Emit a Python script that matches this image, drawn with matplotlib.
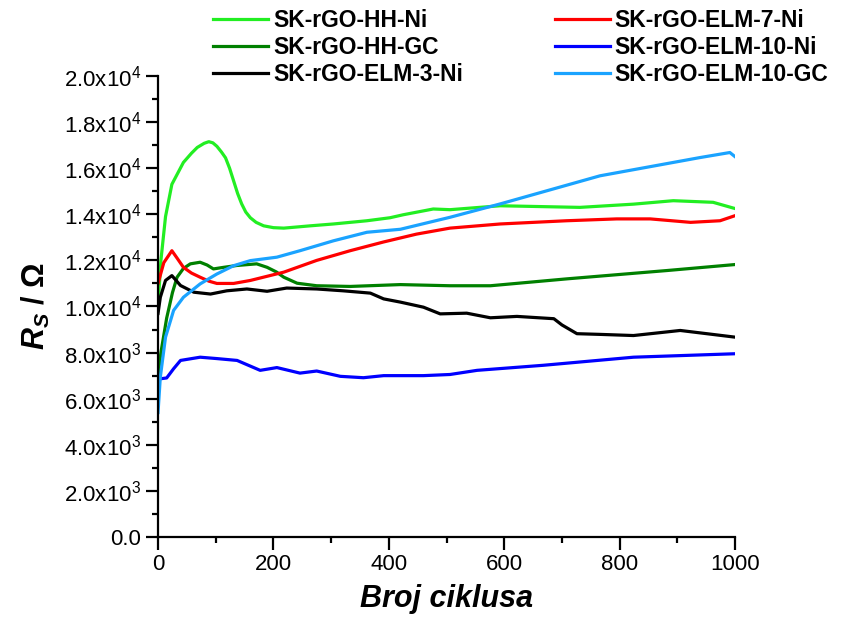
import numpy as np
import matplotlib.pyplot as plt
from matplotlib.ticker import MultipleLocator, FuncFormatter

plt.rcParams['font.family'] = ['Liberation Sans', 'DejaVu Sans']
plt.rcParams['mathtext.fontset'] = 'custom'
plt.rcParams['mathtext.rm'] = 'Liberation Sans'
plt.rcParams['mathtext.it'] = 'Liberation Sans:italic:bold'
plt.rcParams['mathtext.bf'] = 'Liberation Sans:bold'

# values (x: cycle number, y: R_s in kOhm)
hh_ni_x = [0, 5, 13, 24, 44, 58, 68, 80, 88, 95, 102, 110, 117, 124, 131, 138, 145,
           152, 160, 170, 183, 200, 218, 264, 304, 362, 402, 425, 477, 506, 593, 731,
           824, 893, 962, 997, 1000]
hh_ni_y = [10.0, 12.0, 13.9, 15.3, 16.25, 16.65, 16.9, 17.08, 17.15, 17.1, 16.95,
           16.7, 16.45, 16.0, 15.45, 14.9, 14.45, 14.1, 13.85, 13.65, 13.5, 13.42, 13.4,
           13.5, 13.58, 13.72, 13.85, 13.98, 14.23, 14.2, 14.37, 14.3, 14.44, 14.59,
           14.52, 14.27, 14.25]

hh_gc_x = [0, 5, 15, 25, 33, 44, 56, 73, 85, 96, 114, 137, 171, 189, 205, 218, 241,
           275, 333, 420, 506, 576, 709, 882, 1000]
hh_gc_y = [7.0, 8.0, 9.5, 10.6, 11.27, 11.65, 11.85, 11.92, 11.8, 11.63, 11.7, 11.78,
           11.85, 11.7, 11.5, 11.27, 11.01, 10.9, 10.87, 10.95, 10.9, 10.9, 11.2, 11.56,
           11.82]

elm3_x = [0, 4, 13, 24, 39, 62, 91, 119, 154, 189, 223, 275, 321, 368, 391, 420,
          460, 489, 535, 576, 622, 686, 700, 726, 766, 824, 905, 951, 1000]
elm3_y = [9.7, 10.4, 11.13, 11.34, 10.91, 10.62, 10.54, 10.68, 10.76, 10.66, 10.8,
          10.76, 10.68, 10.58, 10.33, 10.19, 9.97, 9.68, 9.71, 9.51, 9.57, 9.47,
          9.2, 8.82, 8.79, 8.74, 8.96, 8.82, 8.67]

elm7_x = [0, 10, 24, 33, 44, 58, 73, 88, 102, 131, 160, 218, 275, 333, 391, 448,
          506, 593, 708, 795, 853, 923, 974, 1000]
elm7_y = [11.0, 11.9, 12.42, 12.1, 11.7, 11.45, 11.27, 11.1, 11.0, 11.0, 11.13,
          11.49, 12.0, 12.42, 12.8, 13.14, 13.4, 13.58, 13.72, 13.8, 13.8, 13.65,
          13.72, 13.94]

elm10_x = [0, 15, 27, 39, 73, 102, 137, 177, 206, 246, 275, 316, 356, 391, 460,
           506, 553, 668, 824, 1000]
elm10_y = [6.85, 6.9, 7.3, 7.66, 7.8, 7.74, 7.66, 7.23, 7.35, 7.11, 7.2, 6.97,
           6.91, 7.0, 7.0, 7.05, 7.23, 7.45, 7.8, 7.95]

elm10gc_x = [0, 4, 13, 27, 44, 73, 102, 131, 160, 206, 246, 304, 362, 420, 506,
             593, 766, 939, 991, 1000]
elm10gc_y = [5.4, 6.94, 8.67, 9.83, 10.4, 10.98, 11.41, 11.77, 11.99, 12.14, 12.42,
             12.85, 13.22, 13.35, 13.87, 14.45, 15.67, 16.46, 16.68, 16.5]

series = [
    ('SK-rGO-HH-Ni', hh_ni_x, hh_ni_y, '#22ee22'),
    ('SK-rGO-HH-GC', hh_gc_x, hh_gc_y, '#008000'),
    ('SK-rGO-ELM-3-Ni', elm3_x, elm3_y, 'black'),
    ('SK-rGO-ELM-7-Ni', elm7_x, elm7_y, '#ff0000'),
    ('SK-rGO-ELM-10-Ni', elm10_x, elm10_y, '#0000ff'),
    ('SK-rGO-ELM-10-GC', elm10gc_x, elm10gc_y, '#1aa3ff'),
]

fig = plt.figure(figsize=(8.41, 6.37), dpi=100)
ax = fig.add_axes([0.1879, 0.157, 0.874 - 0.1879, 0.8807 - 0.157])

for name, x, y, c in series:
    ax.plot(x, np.array(y) * 1000, color=c, lw=2.3, label=name)

ax.set_xlim(0, 1000)
ax.set_ylim(0, 20000)
ax.xaxis.set_major_locator(MultipleLocator(200))
ax.xaxis.set_minor_locator(MultipleLocator(100))
ax.yaxis.set_major_locator(MultipleLocator(2000))
ax.yaxis.set_minor_locator(MultipleLocator(1000))


def sci(v, pos):
    if v <= 0:
        return '0.0'
    e = int(np.floor(np.log10(v)))
    return r'%.1fx10$^{%d}$' % (v / 10**e, e)


ax.yaxis.set_major_formatter(FuncFormatter(sci))
for s in ['top', 'right']:
    ax.spines[s].set_visible(False)
for s in ['left', 'bottom']:
    ax.spines[s].set_linewidth(1.6)
ax.tick_params(which='major', length=9, width=1.6, labelsize=16, direction='out')
ax.tick_params(which='minor', length=4.5, width=1.6, direction='out')

ax.set_xlabel('Broj ciklusa', fontsize=22, fontweight='bold', style='italic', labelpad=6)
ax.set_ylabel(r'$\mathit{R_S}$ / Ω', fontsize=22, fontweight='bold', labelpad=8)

fig.legend(loc='upper left', bbox_to_anchor=(0.2533, 0.9856), ncol=2, frameon=False,
           prop={'weight': 'bold', 'size': 16.5}, handlelength=2.4, handletextpad=0.22,
           columnspacing=4.0, labelspacing=0.17, borderpad=0, borderaxespad=0)

fig.savefig('out.png', dpi=100)
